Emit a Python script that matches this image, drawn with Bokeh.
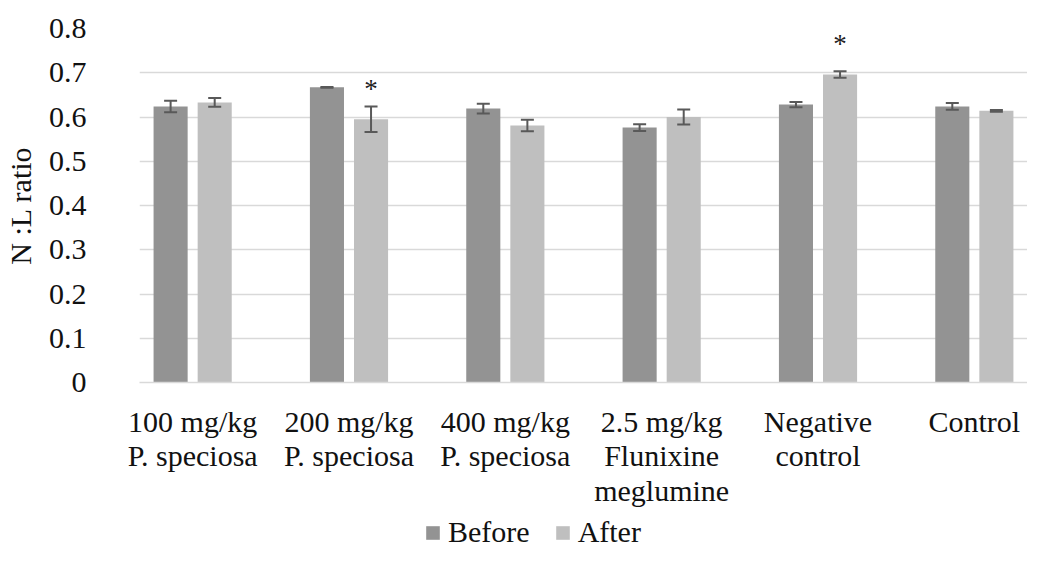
from bokeh.plotting import figure
from bokeh.layouts import column
from bokeh.models import ColumnDataSource, FactorRange, Whisker, Legend, LegendItem, TeeHead
from bokeh.transform import dodge
from bokeh.core.properties import value
from bokeh.embed import file_html
from bokeh.resources import INLINE

categories = ["100 mg/kg\nP. speciosa", "200 mg/kg\nP. speciosa", "400 mg/kg\nP. speciosa",
              "2.5 mg/kg\nFlunixine\nmeglumine", "Negative\ncontrol", "Control"]
before = [0.624, 0.667, 0.619, 0.576, 0.628, 0.624]
before_err = [0.013, 0.001, 0.011, 0.0075, 0.006, 0.0075]
after = [0.633, 0.595, 0.581, 0.600, 0.696, 0.614]
after_err = [0.010, 0.029, 0.013, 0.017, 0.0075, 0.002]
signif = ["", "*", "", "", "*", ""]
series = ["Before", "After"]
y_ticks = [0, 0.1, 0.2, 0.3, 0.4, 0.5, 0.6, 0.7, 0.8]

FONT = "Times"
C_BEFORE = "#939393"
C_AFTER = "#bfbfbf"
OFF = 0.141
W = 0.218
LEFT = 128

src = ColumnDataSource(dict(
    cat=categories,
    before=before, b_lo=[v - e for v, e in zip(before, before_err)], b_hi=[v + e for v, e in zip(before, before_err)],
    after=after, a_lo=[v - e for v, e in zip(after, after_err)], a_hi=[v + e for v, e in zip(after, after_err)],
    sig=signif, sig_y=[v + 0.068 for v in after],
))

p = figure(width=1027, height=513,
           x_range=FactorRange(factors=categories, range_padding=-0.16, range_padding_units="absolute"),
           y_range=(0, 0.8), output_backend="svg", toolbar_location=None,
           min_border_left=LEFT, min_border_right=0, min_border_top=28, min_border_bottom=131)
p.outline_line_color = None
p.background_fill_color = "white"

p.vbar(x=dodge("cat", -OFF, range=p.x_range), top="before", width=W, source=src,
       fill_color=C_BEFORE, line_color=None)
p.vbar(x=dodge("cat", OFF, range=p.x_range), top="after", width=W, source=src,
       fill_color=C_AFTER, line_color=None)

for xoff, lo, hi in [(-OFF, "b_lo", "b_hi"), (OFF, "a_lo", "a_hi")]:
    wk = Whisker(base=dodge("cat", xoff, range=p.x_range), lower=lo, upper=hi, source=src,
                 line_color="#595959", line_width=2, level="annotation",
                 upper_head=TeeHead(size=13, line_color="#595959", line_width=2),
                 lower_head=TeeHead(size=13, line_color="#595959", line_width=2))
    p.add_layout(wk)

p.text(x=dodge("cat", OFF, range=p.x_range), y="sig_y", text="sig", source=src,
       text_font=value(FONT), text_font_size="27px", text_align="center",
       text_baseline="middle", text_color="#222222")

p.xgrid.grid_line_color = None
p.ygrid.grid_line_color = "#d9d9d9"
p.ygrid.grid_line_width = 1.5
p.yaxis.ticker = y_ticks
p.yaxis.axis_line_color = None
p.yaxis.major_tick_line_color = None
p.yaxis.minor_tick_line_color = None
p.yaxis.major_label_text_font = FONT
p.yaxis.major_label_text_font_size = "30px"
p.yaxis.major_label_text_color = "#111111"
p.yaxis.major_label_standoff = 47
p.yaxis.axis_label = "N :L ratio"
p.yaxis.axis_label_text_font = FONT
p.yaxis.axis_label_text_font_size = "30px"
p.yaxis.axis_label_text_font_style = "normal"
p.yaxis.axis_label_text_color = "#111111"
p.yaxis.axis_label_standoff = 9

p.xaxis.axis_line_color = "#d9d9d9"
p.xaxis.axis_line_width = 1.5
p.xaxis.major_tick_line_color = None
p.xaxis.minor_tick_line_color = None
p.xaxis.major_label_text_font = FONT
p.xaxis.major_label_text_font_size = "30px"
p.xaxis.major_label_text_line_height = 1.06
p.xaxis.major_label_text_color = "#111111"
p.xaxis.major_label_standoff = 16

# separate strip that holds the legend under the chart
lg = figure(width=1027, height=36, output_backend="svg", toolbar_location=None,
            x_range=(0, 1), y_range=(0, 1), min_border=0, min_border_left=LEFT)
lg.axis.visible = False
lg.grid.visible = False
lg.outline_line_color = None
lb = lg.vbar(x=[-1], top=[0], width=0.1, fill_color=C_BEFORE, line_color=None)
la = lg.vbar(x=[-1], top=[0], width=0.1, fill_color=C_AFTER, line_color=None)
legend = Legend(items=[LegendItem(label=series[0], renderers=[lb]),
                       LegendItem(label=series[1], renderers=[la])],
                orientation="horizontal", location=(413 - LEFT, 0),
                label_text_font=FONT, label_text_font_size="30px", label_text_color="#111111",
                glyph_width=17, glyph_height=17, label_standoff=7, spacing=24,
                padding=0, margin=0, border_line_color=None, background_fill_alpha=0)
lg.add_layout(legend, "center")

open("out.html", "w").write(file_html(column(p, lg, spacing=0), INLINE))
